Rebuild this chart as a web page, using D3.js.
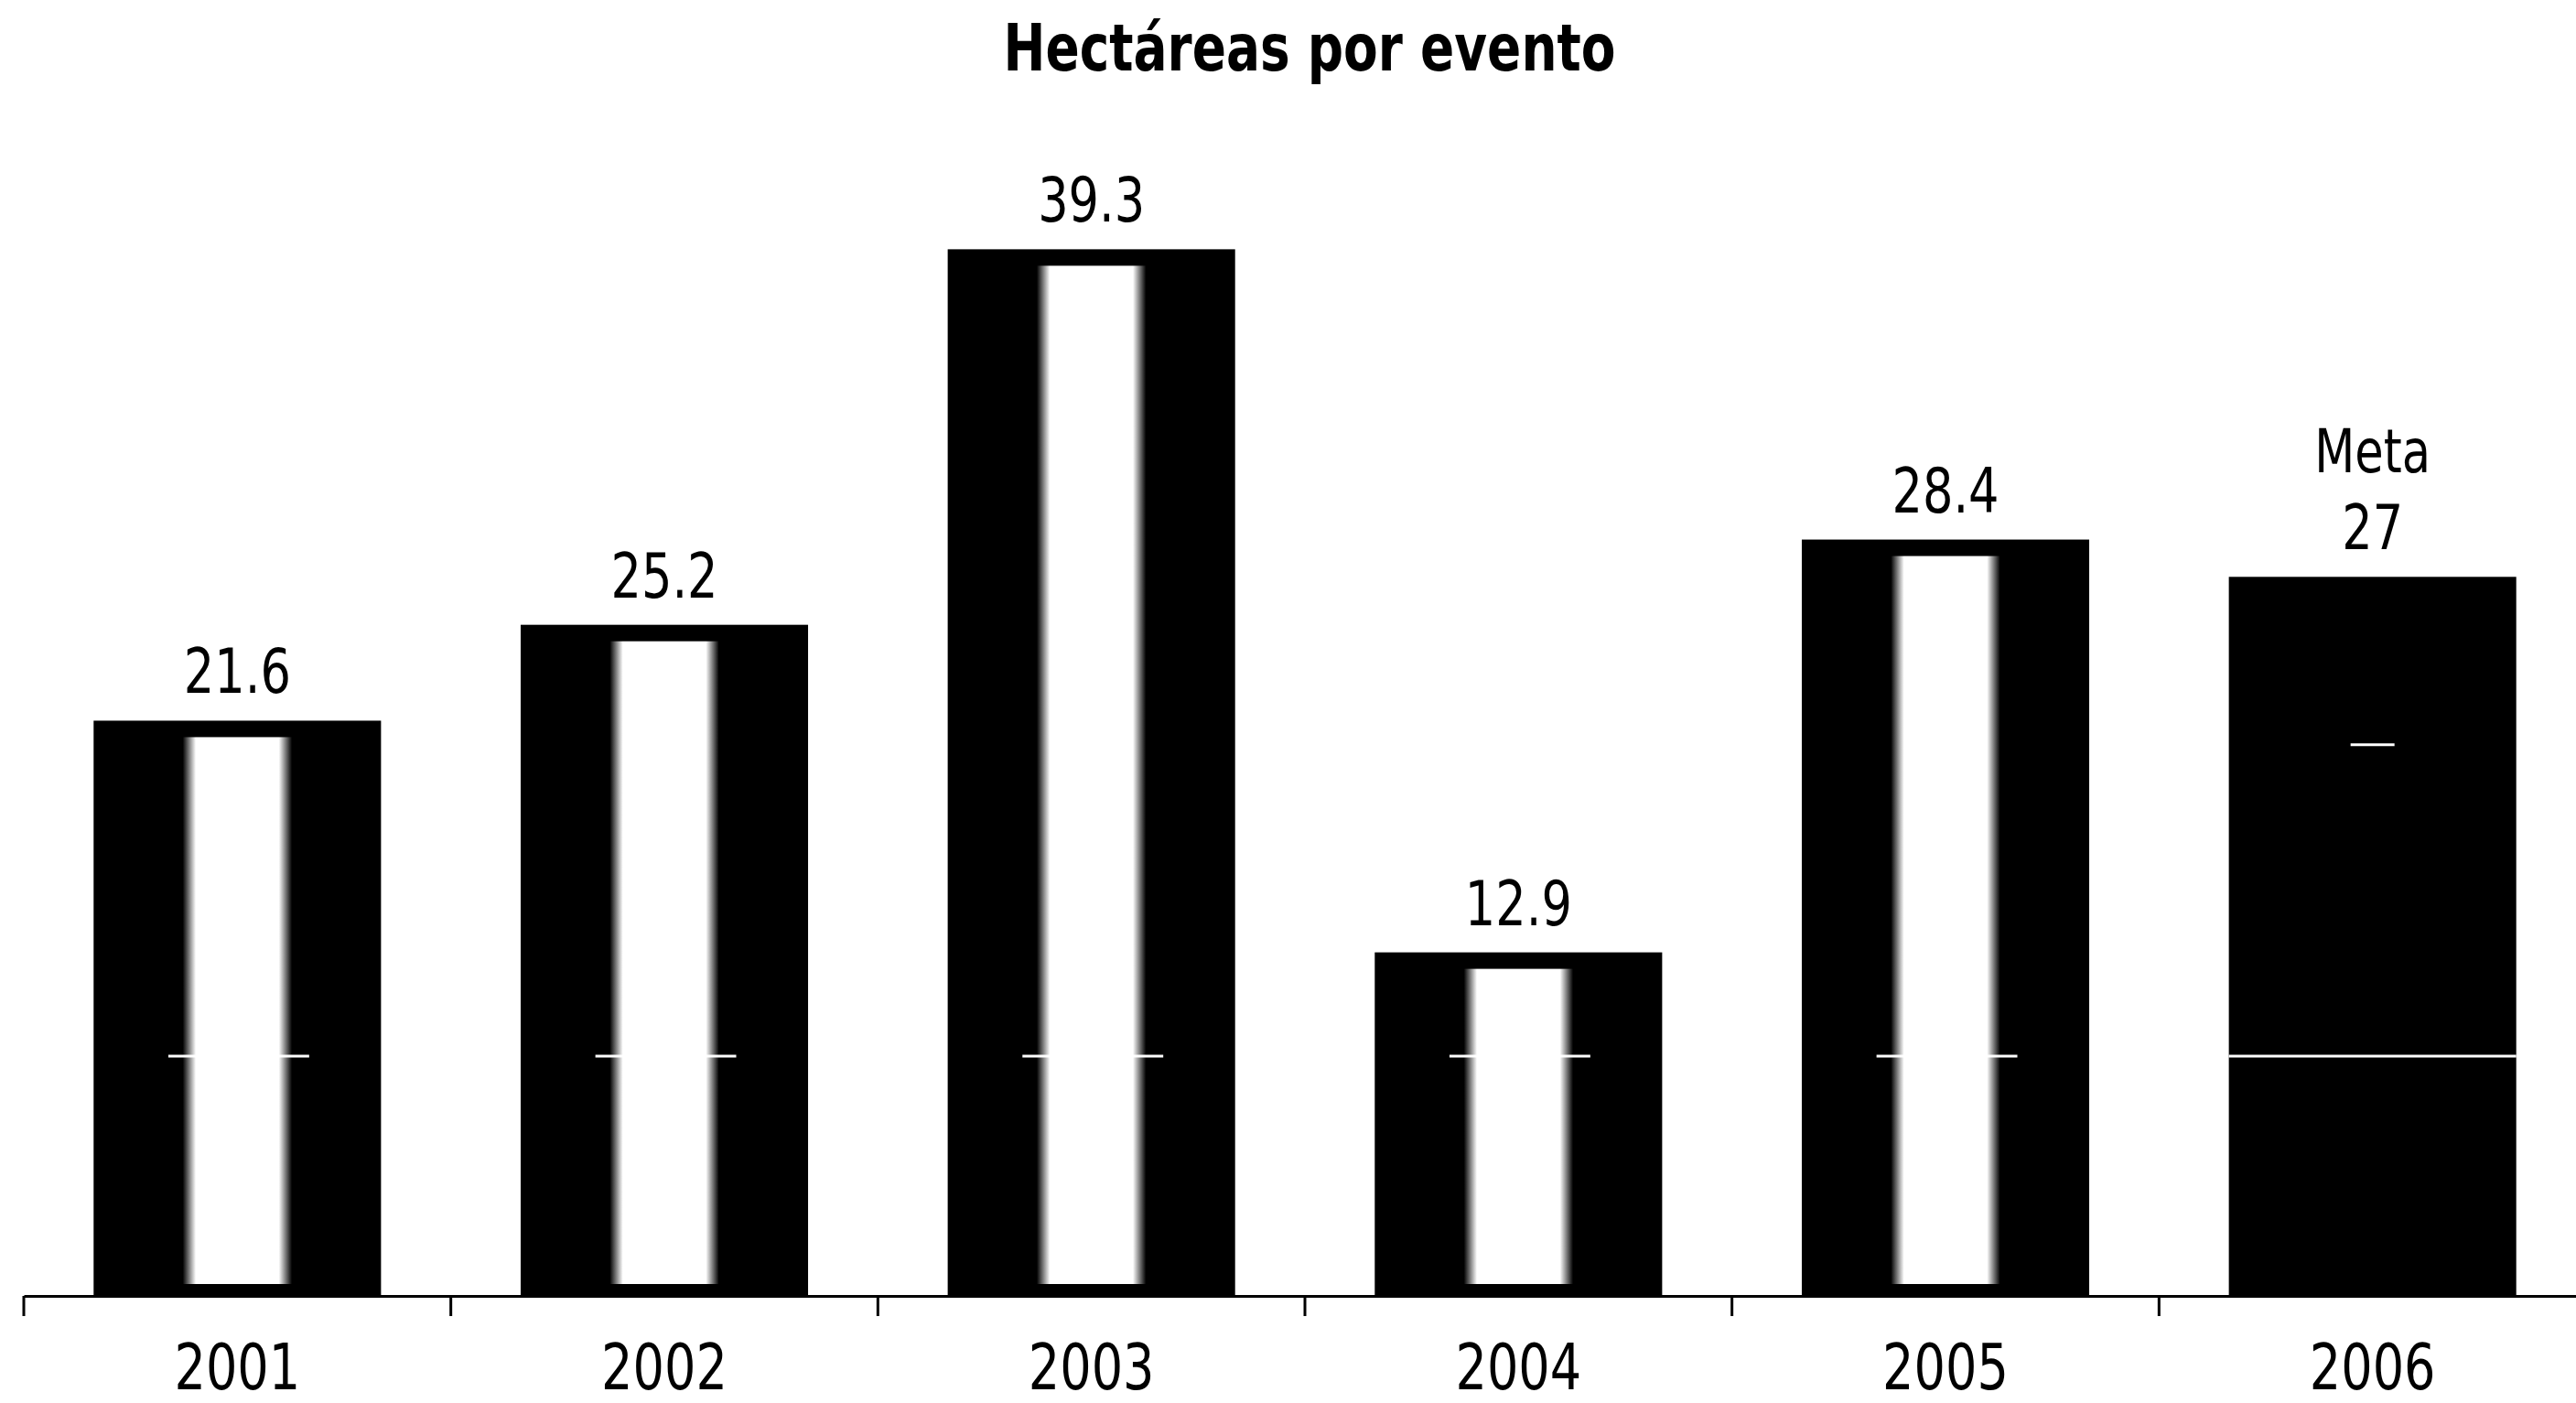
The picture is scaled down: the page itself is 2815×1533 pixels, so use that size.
<!DOCTYPE html>
<html>
<head>
<meta charset="utf-8">
<script src="https://cdn.jsdelivr.net/npm/d3@7"></script>
<style>
  body { margin: 0; background: #fff; }
  text { font-family: "DejaVu Sans Condensed", "DejaVu Sans", sans-serif; fill: #000; }
</style>
</head>
<body>
<div id="chart"></div>
<script>
// data
var years = ["2001", "2002", "2003", "2004", "2005", "2006"];
var values = [21.6, 25.2, 39.3, 12.9, 28.4, 27];
var valueLabels = ["21.6", "25.2", "39.3", "12.9", "28.4", "27"];
var isGoal = [false, false, false, false, false, true];
var goalLabel = "Meta";
var title = "Hectáreas por evento";

var width = 2815, height = 1533;
var squeeze = 0.86; // the print font is narrower than DejaVu Condensed

var svg = d3.select("#chart")
  .append("svg")
    .attr("width", width)
    .attr("height", height);

// x: one cell per year, ticks sit on cell borders
var x = d3.scaleBand()
  .domain(years)
  .range([26, 2826])
  .paddingInner(0.327)
  .paddingOuter(0.1635);

var y = d3.scaleLinear()
  .domain([0, 40])
  .range([1416, 252]);

var bw = x.bandwidth();

// gradient for the light stripe in the middle of each bar
var grad = svg.append("defs").append("linearGradient")
  .attr("id", "stripe")
  .attr("x1", 0).attr("x2", 1).attr("y1", 0).attr("y2", 0);
grad.append("stop").attr("offset", 0).attr("stop-color", "#000");
grad.append("stop").attr("offset", 0.12).attr("stop-color", "#fff");
grad.append("stop").attr("offset", 0.88).attr("stop-color", "#fff");
grad.append("stop").attr("offset", 1).attr("stop-color", "#000");

// title
svg.append("text")
  .attr("transform", "translate(" + 1431 + ",77) scale(" + squeeze + ",1)")
  .attr("text-anchor", "middle")
  .style("font-size", "71px")
  .style("font-weight", "bold")
  .text(title);

// axis: baseline + ticks between cells
var axis = svg.append("g")
  .attr("transform", "translate(0," + y(0) + ")")
  .call(d3.axisBottom(x).tickSize(22).tickSizeOuter(0));

axis.select(".domain").attr("stroke", "#000").attr("stroke-width", 3);
axis.selectAll(".tick line")
  .attr("stroke", "#000")
  .attr("stroke-width", 3)
  .attr("transform", "translate(" + (-x.step() / 2) + ",0)");
axis.selectAll(".tick text")
  .attr("y", 102)
  .attr("dy", null)
  .attr("transform", "scale(" + squeeze + ",1)")
  .style("font-family", "'DejaVu Sans Condensed', 'DejaVu Sans', sans-serif")
  .style("font-size", "70px")
  .attr("fill", "#000");

var data = years.map(function(d, i) {
  return { year: d, value: values[i], label: valueLabels[i], goal: isGoal[i] };
});

// bars
var bars = svg.selectAll(".bar")
  .data(data)
  .enter()
  .append("g")
  .attr("class", "bar");

bars.append("rect")
  .attr("x", function(d) { return x(d.year); })
  .attr("y", function(d) { return y(d.value); })
  .attr("width", bw)
  .attr("height", function(d) { return y(0) - y(d.value); })
  .attr("fill", "#000");

bars.filter(function(d) { return !d.goal; })
  .append("rect")
  .attr("x", function(d) { return x(d.year) + bw * 0.31; })
  .attr("y", function(d) { return y(d.value) + 18; })
  .attr("width", bw * 0.38)
  .attr("height", function(d) { return y(0) - y(d.value) - 31; })
  .attr("fill", "url(#stripe)");

// the thin white crease that runs across the print
bars.append("line")
  .attr("x1", function(d) { return x(d.year) + (d.goal ? 0 : bw * 0.26); })
  .attr("x2", function(d) { return x(d.year) + (d.goal ? bw : bw * 0.75); })
  .attr("y1", y(9))
  .attr("y2", y(9))
  .attr("stroke", "#fff")
  .attr("stroke-width", 3);

bars.filter(function(d) { return d.goal; })
  .append("line")
  .attr("x1", function(d) { return x(d.year) + bw / 2 - 24; })
  .attr("x2", function(d) { return x(d.year) + bw / 2 + 24; })
  .attr("y1", y(20.7))
  .attr("y2", y(20.7))
  .attr("stroke", "#fff")
  .attr("stroke-width", 3);

// value labels
bars.append("text")
  .attr("transform", function(d) {
    return "translate(" + (x(d.year) + bw / 2) + "," + (y(d.value) - 30) + ") scale(" + squeeze + ",1)";
  })
  .attr("text-anchor", "middle")
  .style("font-size", "68px")
  .text(function(d) { return d.label; });

bars.filter(function(d) { return d.goal; })
  .append("text")
  .attr("transform", function(d) {
    return "translate(" + (x(d.year) + bw / 2) + "," + (y(d.value) - 114) + ") scale(" + squeeze + ",1)";
  })
  .attr("text-anchor", "middle")
  .style("font-size", "66px")
  .text(goalLabel);
</script>
</body>
</html>
